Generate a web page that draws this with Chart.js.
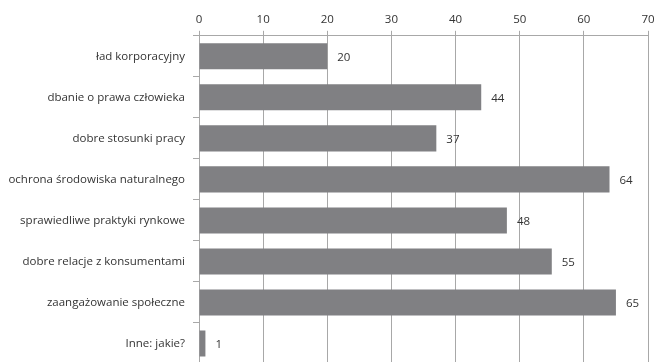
<!DOCTYPE html>
<html>
<head>
<meta charset="utf-8">
<script src="https://cdn.jsdelivr.net/npm/chart.js@4/dist/chart.umd.min.js"></script>
<style>
  html, body { margin: 0; padding: 0; background: #fff; overflow: hidden; }
  #wrap { width: 655px; height: 364px; position: relative; }
</style>
</head>
<body>
<div id="wrap"><canvas id="c"></canvas></div>
<script>
const categories = [
  'ład korporacyjny',
  'dbanie o prawa człowieka',
  'dobre stosunki pracy',
  'ochrona środowiska naturalnego',
  'sprawiedliwe praktyki rynkowe',
  'dobre relacje z konsumentami',
  'zaangażowanie społeczne',
  'Inne: jakie?'
];
const values = [20, 44, 37, 64, 48, 55, 65, 1];
const axisMin = 0;
const axisMax = 70;
const axisStep = 10;

const fontFamily = '"Open Sans", "Liberation Sans", sans-serif';
const fontSize = 11.5;

// Writes each bar's value just past its end
const valueLabels = {
  id: 'valueLabels',
  afterDatasetsDraw(chart) {
    const ctx = chart.ctx;
    const meta = chart.getDatasetMeta(0);
    ctx.save();
    ctx.font = fontSize + 'px ' + fontFamily;
    ctx.fillStyle = '#333333';
    ctx.textAlign = 'left';
    ctx.textBaseline = 'middle';
    meta.data.forEach((bar, i) => {
      ctx.fillText(String(values[i]), bar.x + 10, bar.y + 1);
    });
    ctx.restore();
  }
};

new Chart(document.getElementById('c'), {
  type: 'bar',
  data: {
    labels: categories,
    datasets: [{
      data: values,
      backgroundColor: '#808083',
      borderWidth: 0,
      barPercentage: 0.635,
      categoryPercentage: 1.0
    }]
  },
  options: {
    indexAxis: 'y',
    responsive: true,
    maintainAspectRatio: false,
    animation: false,
    layout: { padding: { top: 9, right: 0, bottom: 0, left: 0 } },
    plugins: {
      legend: { display: false },
      tooltip: { enabled: false }
    },
    scales: {
      x: {
        position: 'top',
        min: axisMin,
        max: axisMax,
        afterFit(scale) { scale.paddingRight = 7; scale.paddingLeft = 0; },
        ticks: {
          stepSize: axisStep,
          color: '#333333',
          font: { family: fontFamily, size: fontSize },
          padding: 4
        },
        grid: {
          color: '#a8a8a8',
          lineWidth: 1,
          tickLength: 5,
          drawTicks: true
        },
        border: { display: true, color: '#a8a8a8' }
      },
      y: {
        afterFit(scale) {
          scale.width = 199;
          scale.paddingTop = 0;
          scale.paddingBottom = 0;
        },
        ticks: {
          color: '#333333',
          font: { family: fontFamily, size: fontSize },
          padding: 8
        },
        grid: {
          drawOnChartArea: false,
          drawTicks: true,
          tickLength: 6,
          color: '#a8a8a8',
          offset: true
        },
        border: { display: true, color: '#a8a8a8' }
      }
    }
  },
  plugins: [valueLabels]
});
</script>
</body>
</html>
